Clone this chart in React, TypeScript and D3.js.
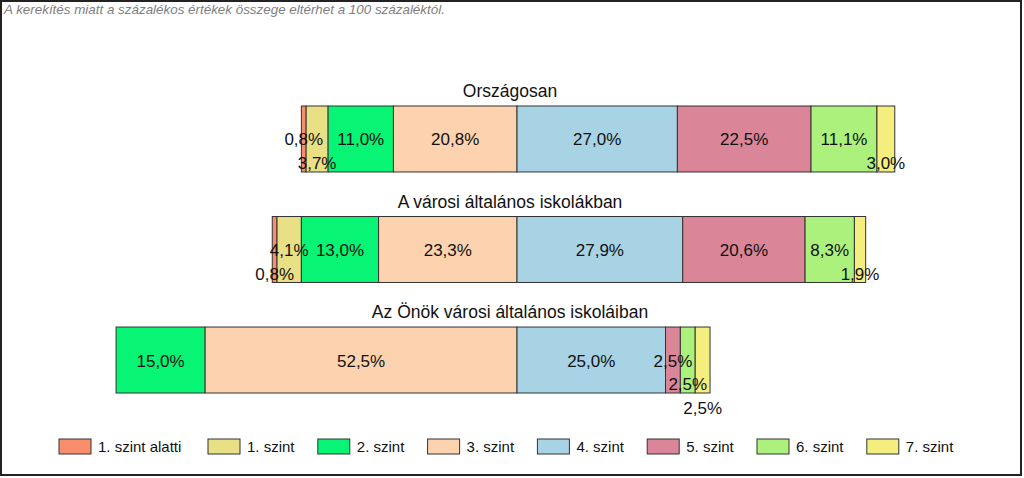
import React from "react";
import * as d3 from "d3";

const categories = [
  "Országosan",
  "A városi általános iskolákban",
  "Az Önök városi általános iskoláiban",
];
const levels = [
  "1. szint alatti",
  "1. szint",
  "2. szint",
  "3. szint",
  "4. szint",
  "5. szint",
  "6. szint",
  "7. szint",
];
const valuesOrszagos = [0.8, 3.7, 11.0, 20.8, 27.0, 22.5, 11.1, 3.0];
const valuesVarosi = [0.8, 4.1, 13.0, 23.3, 27.9, 20.6, 8.3, 1.9];
const valuesOnok = [0, 0, 15.0, 52.5, 25.0, 2.5, 2.5, 2.5];
const series = [valuesOrszagos, valuesVarosi, valuesOnok];

// label stacking level (0 = bar middle, 1/2 = shifted down) to avoid overlaps
const labelShift = [
  [0, 1, 0, 0, 0, 0, 0, 1],
  [1, 0, 0, 0, 0, 0, 0, 1],
  [0, 0, 0, 0, 0, 0, 1, 2],
];

const colors = [
  "#F98E6C",
  "#E9DF85",
  "#07F474",
  "#FCD3AE",
  "#A8D3E4",
  "#DA8598",
  "#ADF17D",
  "#F3EE7E",
];

const note =
  "A kerekítés miatt a  százalékos értékek összege eltérhet a 100 százaléktól.";

const W = 1024;
const H = 478;
const FONT = "Arial, 'Liberation Sans', sans-serif";

export default function App() {
  const center = 517;
  const k = 5.94;
  const x = d3
    .scaleLinear()
    .domain([-70, 70])
    .range([center - 70 * k, center + 70 * k]);
  const y = d3
    .scaleBand<string>()
    .domain(categories)
    .range([106, 393])
    .paddingInner(0.403)
    .paddingOuter(0);
  const bw = y.bandwidth();

  const legendX = levels.map((_, i) => (i === 0 ? 59 : 208 + (i - 1) * 109.8));

  return (
    <svg
      width={W}
      height={H}
      style={{ position: "absolute", left: 0, top: 0, background: "#fff" }}
      fontFamily={FONT}
    >
      <rect x={1} y={1} width={1020} height={474} fill="#fff" stroke="#222" strokeWidth={2} />
      <text x={4} y={14} fontSize={13.4} fontStyle="italic" fill="#808080">
        {note}
      </text>
      {categories.map((cat, r) => {
        const vals = series[r];
        const before = vals.slice(0, 4).reduce((a, b) => a + b, 0);
        let acc = -before;
        const top = y(cat)!;
        const segs = vals.map((v, i) => {
          const x0 = acc;
          acc += v;
          return { v, i, x0, x1: acc };
        });
        return (
          <g key={cat}>
            <text x={510} y={top - 9} fontSize={17.5} textAnchor="middle" fill="#111">
              {cat}
            </text>
            {segs
              .filter((s) => s.v > 0)
              .map((s) => (
                <rect
                  key={s.i}
                  x={x(s.x0)}
                  y={top}
                  width={x(s.x1) - x(s.x0)}
                  height={bw}
                  fill={colors[s.i]}
                  stroke="#333"
                  strokeWidth={1}
                />
              ))}
            {segs
              .filter((s) => s.v > 0)
              .map((s) => (
                <text
                  key={"t" + s.i}
                  x={(x(s.x0) + x(s.x1)) / 2}
                  y={top + bw / 2 + 6.5 + labelShift[r][s.i] * 23.5}
                  fontSize={17}
                  textAnchor="middle"
                  fill="#111"
                >
                  {s.v.toFixed(1).replace(".", ",") + "%"}
                </text>
              ))}
          </g>
        );
      })}
      {levels.map((lv, i) => (
        <g key={lv} transform={`translate(${legendX[i]},439)`}>
          <rect x={0} y={0} width={32} height={15} fill={colors[i]} stroke="#333" strokeWidth={1} />
          <text x={39} y={13} fontSize={15} fill="#111">
            {lv}
          </text>
        </g>
      ))}
    </svg>
  );
}
